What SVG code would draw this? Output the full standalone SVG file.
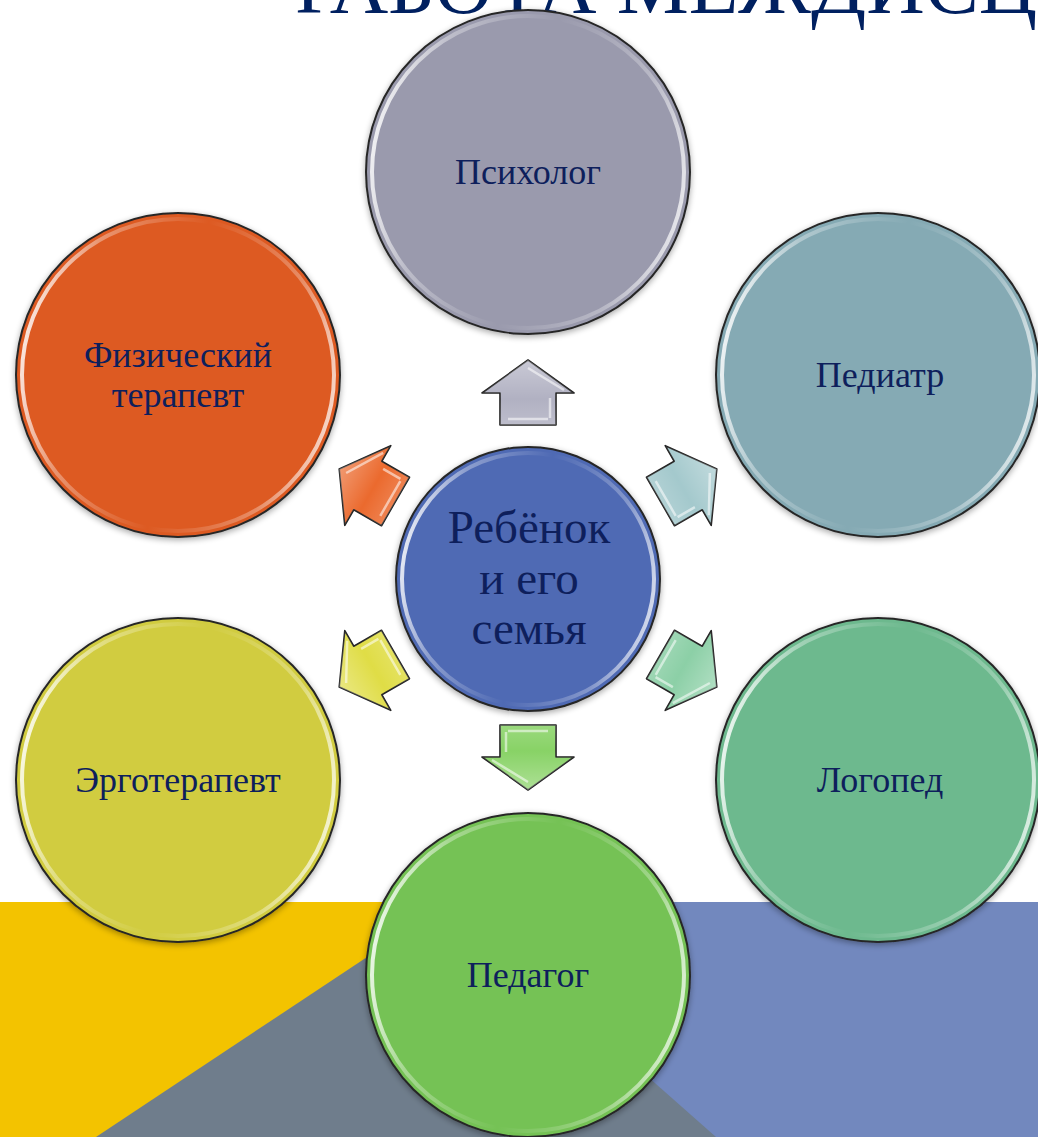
<svg xmlns="http://www.w3.org/2000/svg" width="1038" height="1137" viewBox="0 0 1038 1137">
<style>
  .bubble { stroke: #262626; stroke-width: 2; }
  .shine { fill: none; stroke: url(#shineGrad); stroke-width: 4; }
  .lbl { font-family: "Liberation Serif", "Times New Roman", serif; fill: #0e1f5c; text-anchor: middle; }
  .nodeTxt { font-size: 36px; }
  .centerTxt { font-size: 47px; }
  .arrow { stroke: #1f1f1f; stroke-width: 1.6; stroke-linejoin: round; }
  .arrowShine { fill: none; stroke: #ffffff; stroke-opacity: 0.55; stroke-width: 2.5; stroke-linejoin: round; }
  .title { font-family: "Liberation Serif", "Times New Roman", serif; font-size: 81px; fill: #002060; }
</style>
<defs>
  <linearGradient id="shineGrad" x1="0" y1="0.4" x2="1" y2="0.6">
    <stop offset="0" stop-color="#ffffff" stop-opacity="0.85"/>
    <stop offset="0.18" stop-color="#ffffff" stop-opacity="0.35"/>
    <stop offset="0.5" stop-color="#ffffff" stop-opacity="0"/>
    <stop offset="0.82" stop-color="#ffffff" stop-opacity="0.3"/>
    <stop offset="1" stop-color="#ffffff" stop-opacity="0.75"/>
  </linearGradient>
  <linearGradient id="arrowGloss" x1="0" y1="0" x2="0" y2="1">
    <stop offset="0" stop-color="#ffffff" stop-opacity="0.35"/>
    <stop offset="0.6" stop-color="#ffffff" stop-opacity="0.05"/>
    <stop offset="1" stop-color="#ffffff" stop-opacity="0.2"/>
  </linearGradient>
  <filter id="soft" x="-20%" y="-20%" width="140%" height="140%">
    <feGaussianBlur in="SourceAlpha" stdDeviation="3"/>
    <feOffset dx="0" dy="2" result="b"/>
    <feComponentTransfer><feFuncA type="linear" slope="0.35"/></feComponentTransfer>
    <feMerge><feMergeNode/><feMergeNode in="SourceGraphic"/></feMerge>
  </filter>
  <path id="arrowShape" d="M0,-218 L46,-185 L28,-185 L28,-153 L-28,-153 L-28,-185 L-46,-185 Z"/>
  <path id="arrowInner" d="M0,-210 L36,-188 M22,-180 L22,-160 M-20,-159 L20,-159"/>
</defs>

<!-- background -->
<g id="background">
  <rect x="0" y="902" width="452" height="235" fill="#f3c300"/>
  <rect x="450" y="902" width="588" height="235" fill="#7288be"/>
  <polygon points="450,902 96,1137 716,1137" fill="#6f7d8c"/>
</g>

<text class="title" x="295" y="13">РАБОТА МЕЖДИСЦИПЛИНАРНОЙ КОМАНДЫ</text>

<!-- connectors (arrows) -->
<g id="connectors">
  <g transform="translate(528,578) rotate(0)">
    <use href="#arrowShape" class="arrow" fill="#adadbf"/>
    <use href="#arrowShape" fill="url(#arrowGloss)"/>
    <use href="#arrowInner" class="arrowShine"/>
  </g>
  <g transform="translate(528,578) rotate(60)">
    <use href="#arrowShape" class="arrow" fill="#9fc6ca"/>
    <use href="#arrowShape" fill="url(#arrowGloss)"/>
    <use href="#arrowInner" class="arrowShine"/>
  </g>
  <g transform="translate(528,578) rotate(120)">
    <use href="#arrowShape" class="arrow" fill="#86cda2"/>
    <use href="#arrowShape" fill="url(#arrowGloss)"/>
    <use href="#arrowInner" class="arrowShine"/>
  </g>
  <g transform="translate(528,578) rotate(180) translate(0,6)">
    <use href="#arrowShape" class="arrow" fill="#82d05e"/>
    <use href="#arrowShape" fill="url(#arrowGloss)"/>
    <use href="#arrowInner" class="arrowShine"/>
  </g>
  <g transform="translate(528,578) rotate(240)">
    <use href="#arrowShape" class="arrow" fill="#dedb3c"/>
    <use href="#arrowShape" fill="url(#arrowGloss)"/>
    <use href="#arrowInner" class="arrowShine"/>
  </g>
  <g transform="translate(528,578) rotate(300)">
    <use href="#arrowShape" class="arrow" fill="#ea6223"/>
    <use href="#arrowShape" fill="url(#arrowGloss)"/>
    <use href="#arrowInner" class="arrowShine"/>
  </g>
</g>

<!-- nodes -->
<g id="node-psiholog">
  <circle cx="528" cy="172" r="162" class="bubble" fill="#9a9aad" filter="url(#soft)"/>
  <circle cx="528" cy="172" r="156" class="shine"/>
  <text class="lbl nodeTxt" x="528" y="184">Психолог</text>
</g>
<g id="node-pediatr">
  <circle cx="878" cy="375" r="162" class="bubble" fill="#85aab4" filter="url(#soft)"/>
  <circle cx="878" cy="375" r="156" class="shine"/>
  <text class="lbl nodeTxt" x="880" y="387">Педиатр</text>
</g>
<g id="node-fizterapevt">
  <circle cx="178" cy="375" r="162" class="bubble" fill="#dd5a24" filter="url(#soft)"/>
  <circle cx="178" cy="375" r="156" class="shine"/>
  <text class="lbl nodeTxt" x="178" y="367">Физический</text>
  <text class="lbl nodeTxt" x="178" y="407">терапевт</text>
</g>
<g id="node-ergoterapevt">
  <circle cx="178" cy="780" r="162" class="bubble" fill="#d1cc3f" filter="url(#soft)"/>
  <circle cx="178" cy="780" r="156" class="shine"/>
  <text class="lbl nodeTxt" x="178" y="792">Эрготерапевт</text>
</g>
<g id="node-logoped">
  <circle cx="878" cy="780" r="162" class="bubble" fill="#6db98e" filter="url(#soft)"/>
  <circle cx="878" cy="780" r="156" class="shine"/>
  <text class="lbl nodeTxt" x="880" y="792">Логопед</text>
</g>
<g id="node-pedagog">
  <circle cx="528" cy="975" r="162" class="bubble" fill="#75c255" filter="url(#soft)"/>
  <circle cx="528" cy="975" r="156" class="shine"/>
  <text class="lbl nodeTxt" x="528" y="987">Педагог</text>
</g>
<g id="node-center">
  <circle cx="528" cy="579" r="132" class="bubble" fill="#4f6ab4" filter="url(#soft)"/>
  <circle cx="528" cy="579" r="126" class="shine"/>
  <text class="lbl centerTxt" x="529" y="543">Ребёнок</text>
  <text class="lbl centerTxt" x="529" y="594">и его</text>
  <text class="lbl centerTxt" x="529" y="644">семья</text>
</g>
</svg>
